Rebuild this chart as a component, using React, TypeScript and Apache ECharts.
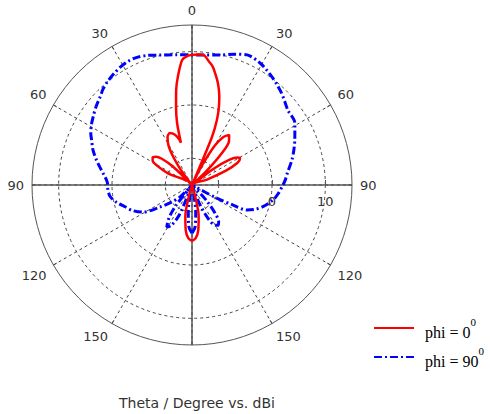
import React, { useEffect, useRef } from "react";
import * as echarts from "echarts";

// Theta (deg, clockwise from top; negative = left half) and gain (dBi)
const phi0Angles = [-180, -176, -172, -168, -164, -160, -75, -67, -64, -61, -58, -55, -52, -49, -46, -43, -40, -37, -34, -31, -27, -23, -19, -16, -14.7, -13.5, -11.5, -9.5, -7.5, -4.5, -2, 0, 3, 5, 8, 10, 12, 14.3, 17, 19, 21, 22.6, 24, 27, 30, 33, 36.5, 40, 43, 46, 48, 50, 53, 56, 59, 61, 64, 67, 70, 72, 160, 164, 168, 172, 176, 180];
const phi0Gain = [-4.5, -5, -6.5, -9, -13, -15, -15, -15, -10, -7.5, -6.3, -6.0, -6.4, -7.5, -10, -15, -15, -12, -9, -6.5, -4.9, -4.4, -5, -6, -6.8, -3, 0, 3, 5.4, 8.5, 9.2, 9.4, 9.5, 9.5, 8.3, 7.5, 6.2, 4.7, 2.5, 0.5, -2, -5.3, -15, -11, -6.5, -4.3, -3.3, -4.2, -6.5, -11, -15, -15, -10, -6.5, -5, -4.7, -5.5, -8, -12, -15, -15, -13, -9, -6.5, -5, -4.5];

const phi90Angles = [-180, -176, -172, -168, -161, -157, -153, -149, -145, -142, -139, -135, -130, -124.5, -119, -113, -108, -103, -98, -93, -88, -83, -79, -75, -70.5, -66, -63, -59, -55.5, -51, -46, -43, -39.5, -35, -31, -27, -24, -19, -14, -7, 0, 6, 12, 18, 23, 29, 33, 36.5, 40, 44, 48, 52, 59, 66, 71, 76, 83, 87, 91, 96, 100.5, 107, 111, 114.5, 116, 118, 120, 133, 137, 141, 144, 147, 150, 154, 158, 162, 168, 172, 176, 180];
const phi90Gain = [-6, -7, -10, -15, -15, -9, -6.5, -5.8, -7.5, -10, -15, -12, -10, -7.7, -4.5, -2.8, -1.8, -0.5, 0.5, 0.8, 0.9, 1.7, 2.6, 3.6, 4.7, 5.6, 6.3, 7, 7.5, 8.2, 8.9, 9.5, 10, 10.5, 10.9, 11.1, 11.1, 10.7, 10.1, 9.6, 9.4, 9.5, 9.9, 10.8, 11.5, 11.2, 10.7, 10.2, 9.7, 9.1, 8.4, 7.8, 7.5, 6.1, 5.2, 4.3, 3.0, 2.5, 1.9, 1.2, 0.45, -1.1, -2.3, -3.7, -6.5, -10, -15, -15, -11, -8, -6.5, -6, -6.3, -7.8, -11, -15, -15, -10, -7, -6];

const radiusMin = -15;
const radiusMax = 15;
const gridCircles = [-10, 0, 10];
const radiusLabels = [0, 10];
const seriesNames = ["phi = 0", "phi = 90"];
const titleText = "Theta / Degree vs. dBi";

export default function App() {
  const ref = useRef<HTMLDivElement>(null);
  useEffect(() => {
    if (!ref.current) return;
    const chart = echarts.init(ref.current, null, { renderer: "svg" });
    const toData = (angles: number[], gains: number[]) =>
      angles.map((a, i) => [Math.max(radiusMin, gains[i]), a]);
    const labelFont = { fontFamily: "DejaVu Sans", fontSize: 13, color: "#333" };
    chart.setOption({
      animation: false,
      backgroundColor: "#fff",
      title: {
        text: titleText,
        left: 192,
        top: 391,
        textAlign: "center",
        textStyle: { fontFamily: "DejaVu Sans", fontSize: 14, fontWeight: "normal", color: "#333" },
      },
      polar: [
        { center: [192, 185], radius: 160 },
        { center: [192, 185], radius: 160 },
      ],
      angleAxis: [
        {
          polarIndex: 0,
          type: "value",
          min: -180,
          max: 180,
          interval: 30,
          startAngle: 270,
          clockwise: true,
          axisLine: { show: true, lineStyle: { color: "#555", width: 1 } },
          axisTick: { show: true, inside: true, length: 4, lineStyle: { color: "#555" } },
          axisLabel: {
            ...labelFont,
            margin: 8,
            formatter: (v: number) => (v === -180 ? "" : String(Math.abs(v))),
          },
          splitLine: { show: true, lineStyle: { color: "#444", type: [3, 3], width: 1 } },
        },
        {
          polarIndex: 1,
          type: "value",
          min: 0,
          max: 360,
          interval: 90,
          startAngle: 0,
          clockwise: true,
          axisLine: { show: false },
          axisTick: { show: false },
          axisLabel: { show: false },
          splitLine: { show: true, lineStyle: { color: "#555", type: "solid", width: 1.5 } },
        },
      ],
      radiusAxis: [
        {
          polarIndex: 0,
          type: "value",
          min: radiusMin,
          max: radiusMax,
          axisLine: { show: false },
          axisTick: { show: false, customValues: gridCircles },
          axisLabel: { show: false },
          splitLine: { show: true, lineStyle: { color: "#444", type: [3, 3], width: 1 } },
        },
        {
          polarIndex: 1,
          type: "value",
          min: radiusMin,
          max: radiusMax,
          axisLine: { show: false },
          axisTick: { show: true, customValues: gridCircles, length: 5, lineStyle: { color: "#555" } },
          axisLabel: { show: true, customValues: radiusLabels, ...labelFont, margin: -23 },
          splitLine: { show: false },
        },
      ],
      legend: {
        orient: "vertical",
        left: 368,
        top: 311,
        itemWidth: 40,
        itemHeight: 14,
        itemGap: 5,
        data: seriesNames,
        itemStyle: { opacity: 0 },
        formatter: (name: string) => `{a|${name}}{s|0}`,
        textStyle: {
          padding: [0, 0, 0, 6],
          rich: {
            a: { fontFamily: "Liberation Serif", fontSize: 16, color: "#000", lineHeight: 24, verticalAlign: "bottom" },
            s: { fontFamily: "Liberation Serif", fontSize: 11, color: "#000", verticalAlign: "top", lineHeight: 24, padding: [0, 0, 10, 0] },
          },
        },
      },
      series: [
        {
          name: seriesNames[1],
          type: "line",
          coordinateSystem: "polar",
          polarIndex: 0,
          showSymbol: false,
          symbol: "none",
          smooth: 0.3,
          data: toData(phi90Angles, phi90Gain),
          lineStyle: { color: "#0000ff", width: 3, type: [8, 3, 2, 3] },
          itemStyle: { color: "#0000ff" },
          z: 3,
        },
        {
          name: seriesNames[0],
          type: "line",
          coordinateSystem: "polar",
          polarIndex: 0,
          showSymbol: false,
          symbol: "none",
          smooth: 0.3,
          data: toData(phi0Angles, phi0Gain),
          lineStyle: { color: "#ff0000", width: 2.5, type: "solid" },
          itemStyle: { color: "#ff0000" },
          z: 4,
        },
      ],
    });
    return () => chart.dispose();
  }, []);
  return (
    <div
      ref={ref}
      style={{ position: "fixed", left: 0, top: 0, width: 490, height: 414, background: "#fff" }}
    />
  );
}
